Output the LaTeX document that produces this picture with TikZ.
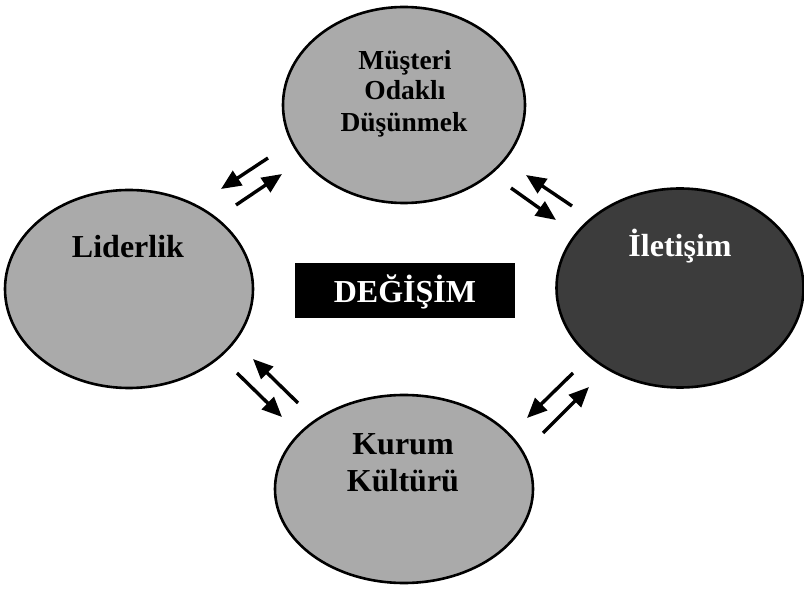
\documentclass[tikz,border=0pt]{standalone}
\usepackage{fontspec}
\setmainfont{Liberation Serif}
\usetikzlibrary{shapes.geometric,arrows.meta}
\definecolor{lightfill}{RGB}{170,170,170}
\definecolor{darkfill}{RGB}{60,60,60}
\begin{document}
\begin{tikzpicture}[x=1pt,y=-1pt,
  blob/.style={ellipse,draw=black,line width=2.6pt,inner sep=0pt},
  lbl/.style={anchor=base,inner sep=0pt,font=\bfseries\fontsize{32}{36}\selectfont},
  slbl/.style={anchor=base,inner sep=0pt,font=\bfseries\fontsize{27.5}{31}\selectfont},
  arr/.style={line width=3.4pt,-{Triangle[length=20pt,width=17pt]}}]
\useasboundingbox (0,0) rectangle (804,593);
% ellipses
\node[blob,fill=lightfill,minimum width=242pt,minimum height=196pt] (must) at (404,105) {};
\node[blob,fill=lightfill,minimum width=248pt,minimum height=198pt] (lider) at (129,289) {};
\node[blob,fill=darkfill,minimum width=247pt,minimum height=199pt] (ilet) at (680,288) {};
\node[blob,fill=lightfill,minimum width=258pt,minimum height=188pt] (kurum) at (404,489) {};
% labels
\node[slbl] (m1) at (405,70) {Müşteri};
\node[slbl] (m2) at (405,100) {Odaklı};
\node[slbl] (m3) at (404,132) {Düşünmek};
\node[lbl] (l1) at (128,258) {Liderlik};
\node[lbl,text=white] (i1) at (680,257) {İletişim};
\node[lbl] (k1) at (403,455) {Kurum};
\node[lbl] (k2) at (403,492) {Kültürü};
% centre box
\node[fill=black,minimum width=220pt,minimum height=55pt,inner sep=0pt] (box) at (405,290.5) {};
\node[lbl,text=white] (boxt) at (405,303) {DEĞİŞİM};
% arrow end points
\coordinate (a1s) at (268,158); \coordinate (a1e) at (221,189);
\coordinate (a2s) at (236,205); \coordinate (a2e) at (282,174);
\coordinate (a3s) at (572,206); \coordinate (a3e) at (526,175);
\coordinate (a4s) at (511,188); \coordinate (a4e) at (556,220);
\coordinate (a5s) at (237,373); \coordinate (a5e) at (282,417);
\coordinate (a6s) at (298,403); \coordinate (a6e) at (253,359);
\coordinate (a7s) at (573,373); \coordinate (a7e) at (527,418);
\coordinate (a8s) at (543,433); \coordinate (a8e) at (589,387);
\draw[arr] (a1s) -- (a1e);
\draw[arr] (a2s) -- (a2e);
\draw[arr] (a3s) -- (a3e);
\draw[arr] (a4s) -- (a4e);
\draw[arr] (a5s) -- (a5e);
\draw[arr] (a6s) -- (a6e);
\draw[arr] (a7s) -- (a7e);
\draw[arr] (a8s) -- (a8e);
\end{tikzpicture}
\end{document}
